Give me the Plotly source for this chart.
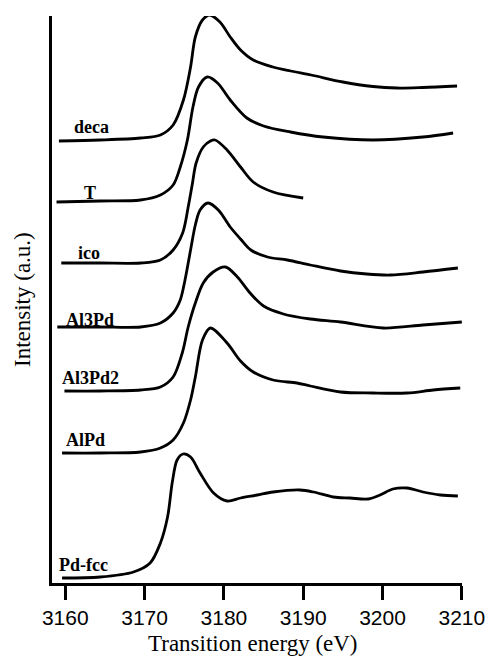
import plotly.graph_objects as go

# Pd L3-edge XANES spectra, stacked with vertical offsets (a.u.)
energy_deca = [3159.2, 3164.4, 3169.5, 3172.0, 3173.6, 3174.9, 3175.8, 3176.4, 3177.3, 3178.2,
               3179.5, 3180.8, 3182.1, 3183.7, 3186.2, 3188.4, 3191.0, 3195.0, 3198.8,
               3201.8, 3205.1, 3209.4]
inten_deca = [0.00, 0.01, 0.03, 0.06, 0.16, 0.41, 0.74, 1.04, 1.21, 1.26,
              1.19, 1.04, 0.91, 0.81, 0.74, 0.70, 0.66, 0.59, 0.545,
              0.53, 0.535, 0.55]

energy_T = [3158.9, 3164.4, 3169.5, 3172.0, 3173.6, 3174.5, 3175.4, 3176.1, 3176.8, 3177.9,
            3179.2, 3180.8, 3182.9, 3185.0, 3188.4, 3192.5, 3198.8, 3205.1, 3208.9]
inten_T = [0.00, 0.01, 0.02, 0.07, 0.17, 0.35, 0.62, 0.95, 1.15, 1.25,
           1.19, 1.02, 0.84, 0.76, 0.70, 0.65, 0.62, 0.65, 0.69]

energy_ico = [3159.5, 3164.4, 3169.5, 3172.0, 3173.6, 3174.8, 3175.5, 3176.0, 3176.5, 3177.4,
              3178.3, 3178.9, 3180.4, 3182.1, 3183.7, 3186.2, 3190.0]
inten_ico = [0.00, 0.00, 0.00, 0.03, 0.13, 0.30, 0.56, 0.78, 1.00, 1.16,
             1.22, 1.23, 1.13, 0.96, 0.81, 0.71, 0.65]

energy_al3pd = [3159.0, 3164.4, 3169.5, 3172.0, 3173.6, 3174.5, 3175.1, 3175.8, 3176.4, 3177.0,
                3178.0, 3179.3, 3180.8, 3182.1, 3183.4, 3185.5, 3188.0, 3190.9, 3194.7, 3198.0,
                3201.0, 3205.1, 3209.5]
inten_al3pd = [0.00, 0.00, 0.00, 0.04, 0.14, 0.27, 0.47, 0.77, 1.02, 1.17,
               1.24, 1.17, 1.00, 0.88, 0.77, 0.70, 0.67, 0.62, 0.56, 0.53,
               0.52, 0.55, 0.59]

energy_al3pd2 = [3159.9, 3164.4, 3169.5, 3172.0, 3173.6, 3174.75, 3175.5, 3176.4, 3177.4, 3178.65,
                 3180.2, 3181.7, 3183.3, 3185.0, 3187.5, 3190.9, 3194.7, 3200.1, 3205.1, 3210.0]
inten_al3pd2 = [0.00, 0.00, 0.01, 0.04, 0.14, 0.38, 0.64, 0.88, 1.08, 1.19,
                1.24, 1.14, 0.98, 0.85, 0.77, 0.72, 0.69, 0.63, 0.66, 0.69]

energy_alpd = [3159.6, 3164.4, 3169.5, 3172.0, 3173.6, 3174.9, 3175.8, 3176.4, 3177.3, 3178.3,
               3180.4, 3182.1, 3183.7, 3186.2, 3189.2, 3190.9, 3194.7, 3198.8, 3203.1, 3206.4,
               3209.8]
inten_alpd = [0.00, 0.00, 0.01, 0.05, 0.13, 0.30, 0.53, 0.76, 1.13, 1.25,
              1.10, 0.92, 0.81, 0.73, 0.70, 0.67, 0.61, 0.60, 0.60, 0.63,
              0.65]

energy_pdfcc = [3159.6, 3164.4, 3168.6, 3170.7, 3172.0, 3172.9, 3173.5, 3174.1, 3174.85, 3175.8,
                3177.0, 3178.7, 3180.4, 3182.1, 3184.2, 3186.2, 3189.6, 3191.3, 3193.8, 3195.9,
                3198.2, 3199.7, 3201.3, 3203.1, 3205.1, 3207.3, 3209.5]
inten_pdfcc = [0.00, 0.01, 0.06, 0.15, 0.35, 0.61, 0.96, 1.18, 1.24, 1.21,
               1.05, 0.85, 0.77, 0.80, 0.83, 0.86, 0.88, 0.86, 0.81, 0.80,
               0.79, 0.83, 0.89, 0.90, 0.86, 0.83, 0.82]

sample_names = ["deca", "T", "ico", "Al3Pd", "Al3Pd2", "AlPd", "Pd-fcc"]
energies = [energy_deca, energy_T, energy_ico, energy_al3pd, energy_al3pd2, energy_alpd, energy_pdfcc]
intensities = [inten_deca, inten_T, inten_ico, inten_al3pd, inten_al3pd2, inten_alpd, inten_pdfcc]
offsets = [4.42, 3.81, 3.20, 2.56, 1.92, 1.30, 0.05]

# label anchor points (left edge energy, vertical centre in a.u.)
label_x = [3160.84, 3162.1, 3161.39, 3159.79, 3159.28, 3159.79, 3158.95]
label_y = [4.557, 3.902, 3.302, 2.632, 2.052, 1.432, 0.182]

x_ticks = [3160, 3170, 3180, 3190, 3200, 3210]

# plot-area geometry in pixels
W, H = 488, 656
ML, MR, MT, MB = 52, 26, 16, 73
PW, PH = W - ML - MR, H - MT - MB

fig = go.Figure()
for name, e, i, off in zip(sample_names, energies, intensities, offsets):
    fig.add_trace(go.Scatter(
        x=e, y=[v + off for v in i], mode="lines", name=name,
        line=dict(color="black", width=2.8, shape="spline", smoothing=0.9),
        showlegend=False, hoverinfo="skip",
    ))

annotations = []
for name, lx, ly in zip(sample_names, label_x, label_y):
    annotations.append(dict(
        x=lx, y=ly, xref="x", yref="y", text="<b>" + name + "</b>", showarrow=False,
        xanchor="left", yanchor="middle",
        font=dict(family="Liberation Serif", size=18, color="black"),
    ))

# axis titles placed in paper coordinates relative to the plot area
annotations.append(dict(
    x=(253.3 - ML) / PW, y=(H - MB - 643) / PH, xref="paper", yref="paper",
    text="Transition energy (eV)", showarrow=False, xanchor="center", yanchor="middle",
    font=dict(family="Liberation Serif", size=23, color="black"),
))
annotations.append(dict(
    x=(22 - ML) / PW, y=(H - MB - 300) / PH, xref="paper", yref="paper",
    text="Intensity (a.u.)", showarrow=False, textangle=-90, xanchor="center", yanchor="middle",
    font=dict(family="Liberation Serif", size=23, color="black"),
))

fig.update_layout(
    template="none",
    width=W, height=H,
    margin=dict(l=ML, r=MR, t=MT, b=MB, autoexpand=False),
    paper_bgcolor="white", plot_bgcolor="white",
    annotations=annotations,
    xaxis=dict(
        range=[3158.33, 3210.02], tickvals=x_ticks, ticktext=[str(t) for t in x_ticks],
        ticks="outside", ticklen=14, tickwidth=2.5, tickcolor="black",
        showline=True, linewidth=2.5, linecolor="black",
        showgrid=False, zeroline=False, automargin=False,
        tickfont=dict(family="Liberation Sans", size=21, color="black"),
    ),
    yaxis=dict(
        range=[0, 5.67], showticklabels=False, ticks="",
        showline=True, linewidth=2.5, linecolor="black",
        showgrid=False, zeroline=False, automargin=False,
    ),
)

fig.write_html("out.html")
